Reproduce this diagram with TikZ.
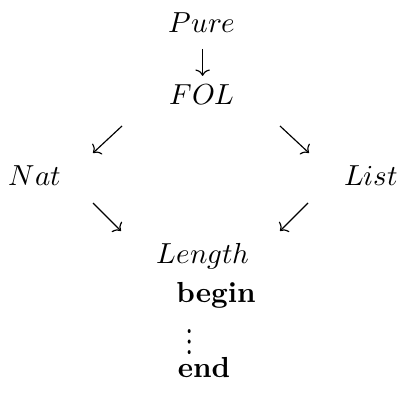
\documentclass[tikz,border=0pt]{standalone}
\usepackage{unicode-math}
\setmathfont{Latin Modern Math}
\usetikzlibrary{arrows.meta}
\begin{document}
\begin{tikzpicture}[x=0.345pt,y=-0.345pt,
  lbl/.style={inner sep=0pt,anchor=base},
  arr/.style={line width=0.4pt,-{Computer Modern Rightarrow[length=2.2pt,width=5pt]}}]
\useasboundingbox (0,0) rectangle (400,394);
\node[lbl] (pure) at (202,33) {$Pure$};
\node[lbl] (fol) at (202,105) {$FOL$};
\node[lbl] (nat) at (35,185) {$Nat$};
\node[lbl] (list) at (371,185) {$List$};
\node[lbl] (length) at (203,263) {$Length$};
\node[lbl] (begin) at (216,302) {\textbf{begin}};
\node[lbl] (dots) at (190,351) {\scalebox{1}[1.3]{$\vdots$}};
\node[lbl] (end) at (204,377) {\textbf{end}};
\draw[arr,shorten <=5.2pt,shorten >=2.8pt] (pure.south -| 202.6,0) -- (fol.north -| 202.6,0);
\coordinate (a1s) at (122,126); \coordinate (a1e) at (93,153);
\coordinate (a2s) at (280,126); \coordinate (a2e) at (309,153);
\coordinate (a3s) at (93,203);  \coordinate (a3e) at (121,231);
\coordinate (a4s) at (308,203); \coordinate (a4e) at (280,231);
\draw[arr] (a1s) -- (a1e);
\draw[arr] (a2s) -- (a2e);
\draw[arr] (a3s) -- (a3e);
\draw[arr] (a4s) -- (a4e);
\end{tikzpicture}
\end{document}
